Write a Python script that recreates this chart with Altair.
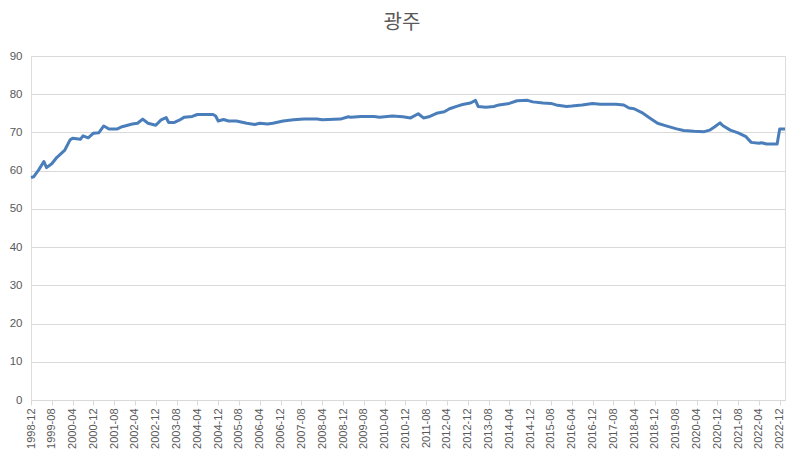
import altair as alt
import pandas as pd

months = [
    "1998-12", "1999-01", "1999-03", "1999-05", "1999-06", "1999-08", "1999-10",
    "2000-01", "2000-03", "2000-04", "2000-07", "2000-08", "2000-10", "2000-12",
    "2001-02", "2001-04", "2001-06", "2001-09", "2001-11", "2002-03", "2002-05",
    "2002-07", "2002-09", "2002-12", "2003-02", "2003-04", "2003-05", "2003-07",
    "2003-09", "2003-11", "2004-02", "2004-04", "2004-10", "2004-11", "2004-12",
    "2005-02", "2005-04", "2005-07", "2005-11", "2006-02", "2006-04", "2006-07",
    "2006-09", "2007-01", "2007-05", "2007-09", "2008-02", "2008-04", "2008-11",
    "2009-02", "2009-03", "2009-07", "2009-12", "2010-02", "2010-07", "2010-11",
    "2011-02", "2011-05", "2011-07", "2011-09", "2011-12", "2012-03", "2012-05",
    "2012-08", "2012-10", "2013-01", "2013-03", "2013-04", "2013-07", "2013-10",
    "2013-12", "2014-04", "2014-07", "2014-11", "2015-01", "2015-05", "2015-08",
    "2015-10", "2016-02", "2016-04", "2016-08", "2016-12", "2017-03", "2017-09",
    "2017-12", "2018-02", "2018-04", "2018-07", "2018-10", "2019-01", "2019-04",
    "2019-08", "2019-11", "2020-03", "2020-07", "2020-09", "2020-11", "2021-01",
    "2021-02", "2021-05", "2021-08", "2021-11", "2022-01", "2022-04", "2022-05",
    "2022-07", "2022-11", "2022-12", "2023-02",
]
values = [
    58.2, 58.4, 60.2, 62.4, 60.8, 61.8, 63.5,
    65.4, 68.0, 68.5, 68.2, 69.1, 68.6, 69.8,
    69.9, 71.7, 70.9, 70.9, 71.5, 72.2, 72.4,
    73.5, 72.4, 71.9, 73.3, 73.9, 72.6, 72.6,
    73.2, 74.0, 74.2, 74.7, 74.7, 74.3, 73.0,
    73.4, 73.0, 73.0, 72.4, 72.1, 72.4, 72.2,
    72.4, 73.0, 73.3, 73.5, 73.5, 73.3, 73.5,
    74.1, 74.0, 74.2, 74.2, 74.0, 74.3, 74.1,
    73.8, 74.9, 73.8, 74.1, 75.0, 75.4, 76.2,
    76.9, 77.3, 77.7, 78.4, 76.8, 76.6, 76.8,
    77.2, 77.6, 78.3, 78.4, 78.0, 77.7, 77.6,
    77.2, 76.8, 76.9, 77.2, 77.6, 77.4, 77.4,
    77.2, 76.4, 76.2, 75.2, 73.8, 72.4, 71.8,
    71.0, 70.5, 70.3, 70.2, 70.6, 71.5, 72.5,
    71.8, 70.6, 69.9, 68.9, 67.4, 67.2, 67.3,
    67.0, 67.0, 70.9, 70.9,
]

tick_labels = [
    "1998-12", "1999-08", "2000-04", "2000-12", "2001-08", "2002-04", "2002-12",
    "2003-08", "2004-04", "2004-12", "2005-08", "2006-04", "2006-12", "2007-08",
    "2008-04", "2008-12", "2009-08", "2010-04", "2010-12", "2011-08", "2012-04",
    "2012-12", "2013-08", "2014-04", "2014-12", "2015-08", "2016-04", "2016-12",
    "2017-08", "2018-04", "2018-12", "2019-08", "2020-04", "2020-12", "2021-08",
    "2022-04", "2022-12",
]
y_ticks = [0, 10, 20, 30, 40, 50, 60, 70, 80, 90]


def dt(s):
    y, m = s.split("-")
    return alt.DateTime(year=int(y), month=int(m), date=1, utc=True)


df = pd.DataFrame({"date": [m + "-01" for m in months], "value": values})

GRAY = "#595959"
GRID = "#d9d9d9"

chart = (
    alt.Chart(df)
    .mark_line(color="#4a7ebb", strokeWidth=3, strokeJoin="round")
    .encode(
        x=alt.X(
            "date:T",
            scale=alt.Scale(type="utc", domain=[dt(months[0]), dt(months[-1])], nice=False),
            axis=alt.Axis(
                title=None,
                values=[dt(t) for t in tick_labels],
                labelExpr="utcFormat(datum.value, '%Y-%m')",
                labelAngle=-90,
                labelFontSize=11,
                labelColor=GRAY,
                labelFont="Liberation Sans",
                labelPadding=3,
                labelOverlap=False,
                labelFlush=False,
                labelBound=False,
                domainColor=GRID,
                tickColor=GRID,
                tickSize=5,
                grid=False,
            ),
        ),
        y=alt.Y(
            "value:Q",
            scale=alt.Scale(domain=[0, 90], nice=False),
            axis=alt.Axis(
                title=None,
                values=y_ticks,
                labelFontSize=11.5,
                labelColor=GRAY,
                labelFont="Liberation Sans",
                labelPadding=9,
                domain=False,
                ticks=False,
                grid=True,
                gridColor=GRID,
                gridWidth=1,
            ),
        ),
    )
    .properties(
        width=754,
        height=344,
        title=alt.TitleParams(
            "광주",
            font="Noto Sans CJK KR",
            fontSize=20,
            fontWeight="normal",
            color=GRAY,
            anchor="middle",
            offset=17,
            dx=-6,
        ),
        autosize=alt.AutoSizeParams(type="none"),
        padding={"left": 23, "top": 48, "right": 7, "bottom": 50},
    )
    .configure_view(stroke=None)
    .configure(background="white")
)

chart.save("out.html", embed_options={"renderer": "svg", "actions": False})
